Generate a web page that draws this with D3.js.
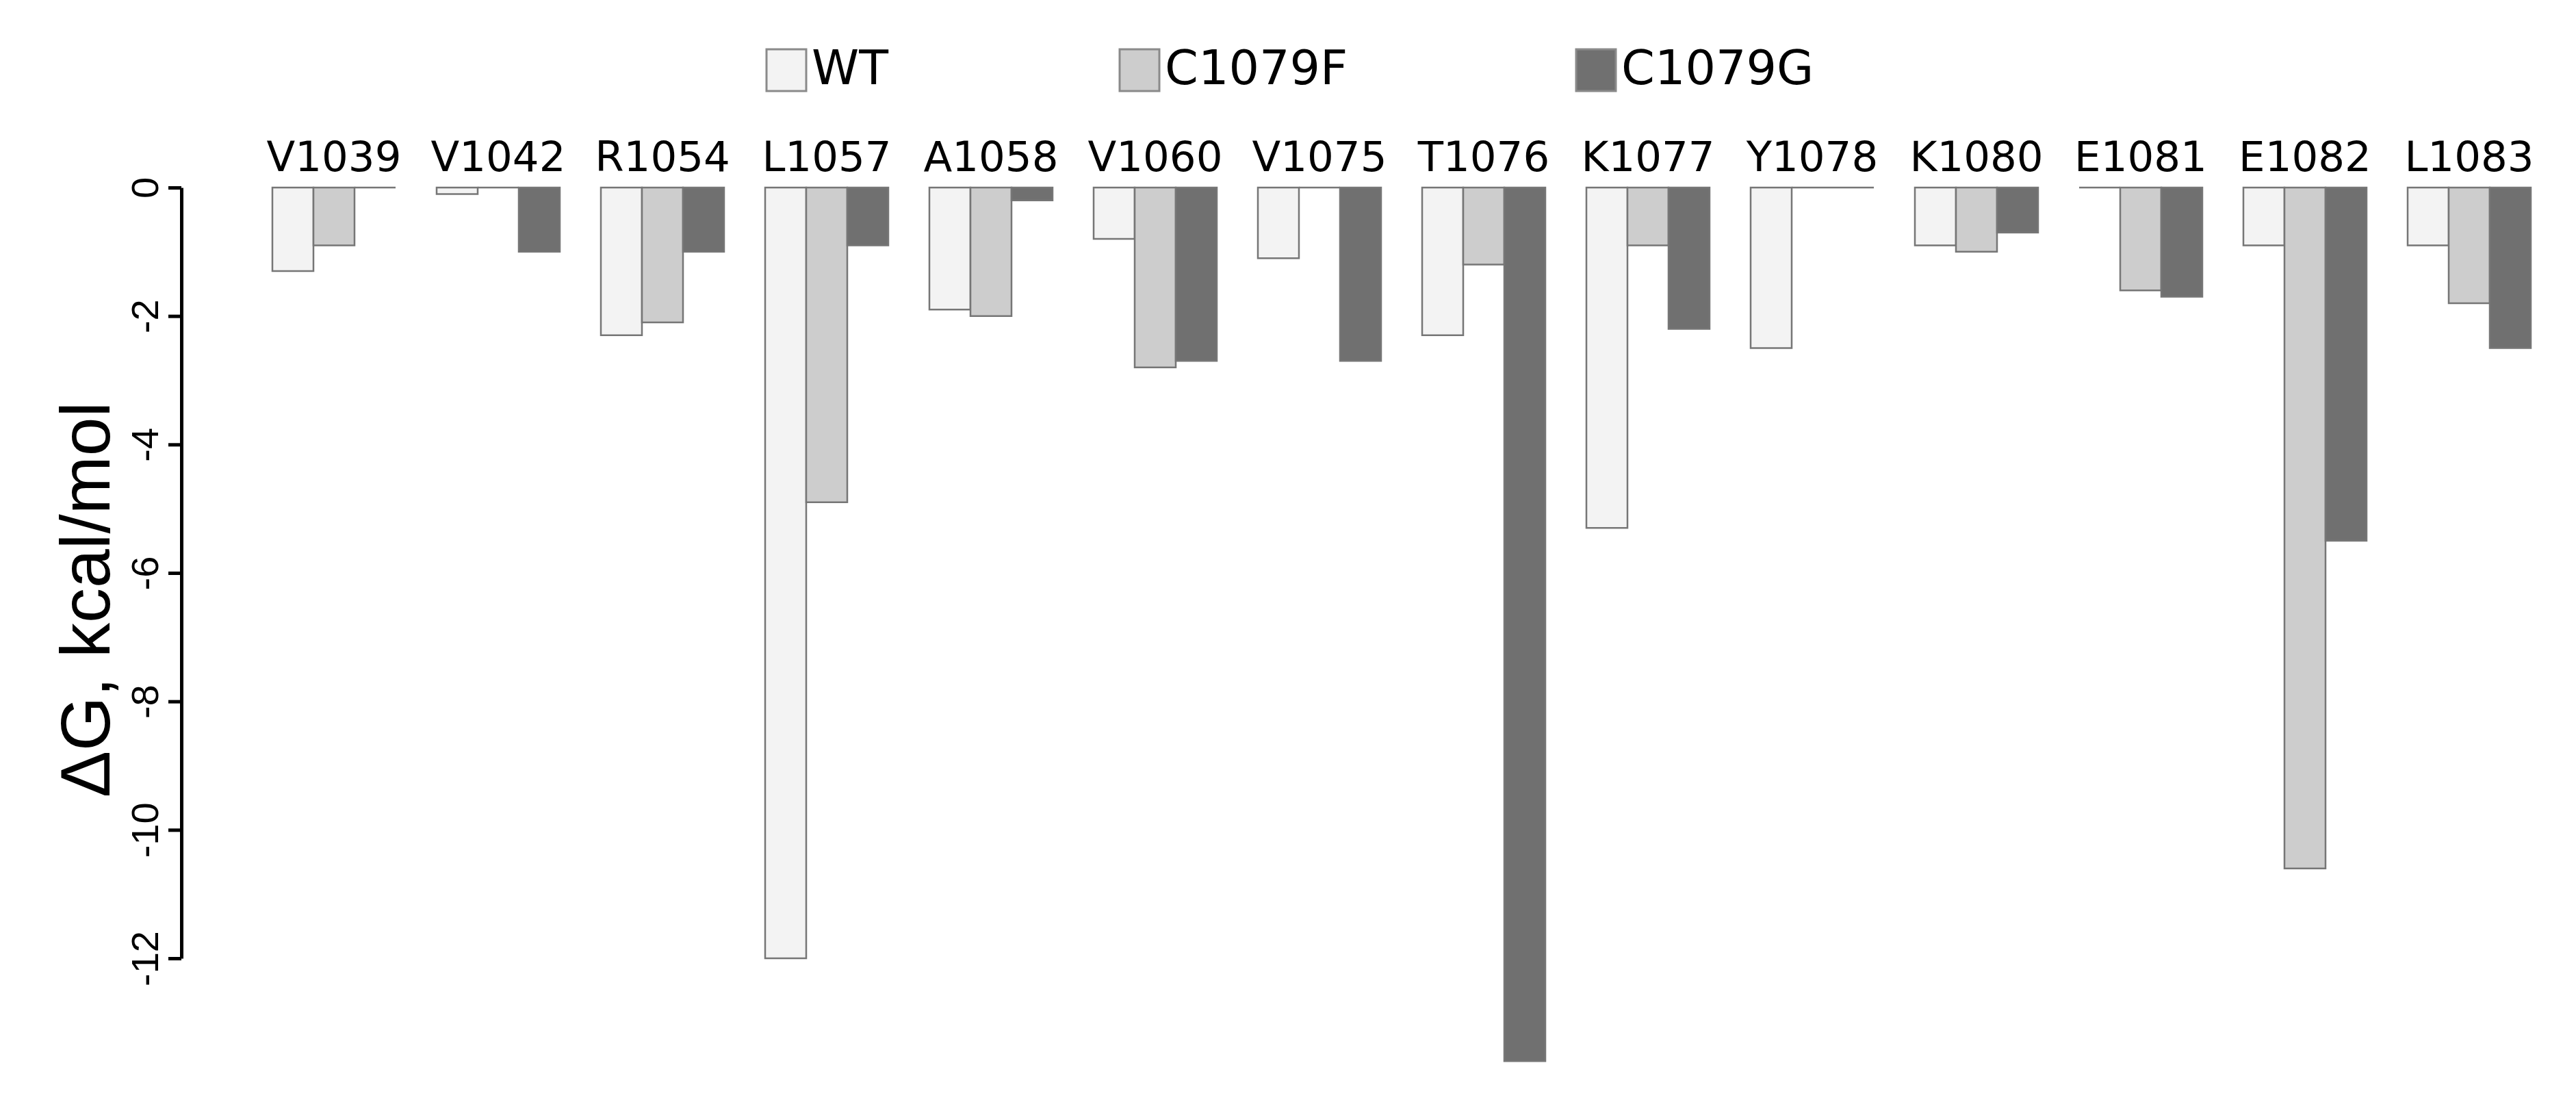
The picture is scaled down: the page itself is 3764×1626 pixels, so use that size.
<!DOCTYPE html>
<meta charset="utf-8">
<title>dG per residue</title>
<style>
html, body { margin: 0; padding: 0; background: #fff; }
svg { display: block; }
.cat { font-family: "DejaVu Sans", sans-serif; font-size: 61px; }
.leg { font-family: "DejaVu Sans", sans-serif; font-size: 70px; }
.ax .tick text { font-family: "Liberation Sans", Arial, sans-serif; font-size: 56px; }
</style>
<body>
<script src="https://cdn.jsdelivr.net/npm/d3@7"></script>
<script>
'use strict';

// residues along the x axis
const residues = ["V1039", "V1042", "R1054", "L1057", "A1058", "V1060", "V1075",
                  "T1076", "K1077", "Y1078", "K1080", "E1081", "E1082", "L1083"];

// dG, kcal/mol for each variant
const wtVals    = [-1.3, -0.1, -2.3, -12.0, -1.9, -0.8, -1.1, -2.3, -5.3, -2.5, -0.9,  0.0, -0.9, -0.9];
const c1079fVals = [-0.9,  0.0, -2.1, -4.9, -2.0, -2.8,  0.0, -1.2, -0.9,  0.0, -1.0, -1.6, -10.6, -1.8];
const c1079gVals = [ 0.0, -1.0, -1.0, -0.9, -0.2, -2.7, -2.7, -13.6, -2.2, 0.0, -0.7, -1.7, -5.5, -2.5];

const seriesNames = ["WT", "C1079F", "C1079G"];
const seriesFill = ["#f3f3f3", "#cdcdcd", "#707070"];

const yTicks = [0, -2, -4, -6, -8, -10, -12];

const W = 3764, H = 1626;
const svg = d3.select("body").append("svg").attr("width", W).attr("height", H);

const series = [wtVals, c1079fVals, c1079gVals];

// groups of three bars, one empty bar width between groups
const x0 = d3.scaleBand().domain(residues).range([398, 3698]).paddingInner(0.25).paddingOuter(0);
const x1 = d3.scaleBand().domain(seriesNames).range([0, x0.bandwidth()]).padding(0);
const y = d3.scaleLinear().domain([0, -12]).range([274, 1400]);

// bars (drawn as paths so that zero values still show their outline)
const groups = svg.append("g").selectAll("g")
  .data(residues)
  .join("g")
    .attr("transform", d => `translate(${x0(d)},0)`);

groups.selectAll("path")
  .data((d, i) => seriesNames.map((s, k) => ({s: s, k: k, v: series[k][i]})))
  .join("path")
    .attr("d", d => {
      const p = d3.path();
      const xa = x1(d.s), w = x1.bandwidth();
      const ya = y(0), yb = y(d.v);
      p.moveTo(xa, ya); p.lineTo(xa + w, ya); p.lineTo(xa + w, yb); p.lineTo(xa, yb); p.closePath();
      return p.toString();
    })
    .attr("fill", d => seriesFill[d.k])
    .attr("stroke", "#767676")
    .attr("stroke-width", 2.5);

// residue labels above groups
svg.append("g").selectAll("text")
  .data(residues)
  .join("text")
    .attr("class", "cat")
    .attr("x", d => x0(d) + x0.bandwidth() / 2)
    .attr("y", 250)
    .attr("text-anchor", "middle")
    .text(d => d);

// y axis
const yAxis = d3.axisLeft(y).tickValues(yTicks).tickSize(19).tickSizeOuter(0).tickFormat(d3.format("d"));
const ax = svg.append("g").attr("class", "ax").attr("transform", "translate(265,0)").call(yAxis);
ax.select(".domain").attr("stroke", "#000").attr("stroke-width", 5);
ax.selectAll(".tick line").attr("stroke", "#000").attr("stroke-width", 5);
ax.selectAll(".tick text")
  .attr("x", 0).attr("dy", 0)
  .attr("text-anchor", "middle")
  .attr("transform", "translate(-34,0) rotate(-90)")
  .text(d => d === 0 ? "0" : "-" + Math.abs(d));

svg.append("text")
  .attr("transform", "translate(160,876) rotate(-90)")
  .attr("text-anchor", "middle")
  .attr("font-family", "'Liberation Sans', Arial, sans-serif")
  .attr("font-size", 102)
  .text("\u0394G, kcal/mol");

// legend
const legendX = [1120, 1636, 2303];
const leg = svg.append("g").selectAll("g")
  .data(seriesNames)
  .join("g")
    .attr("transform", (d, i) => `translate(${legendX[i]},72)`);
leg.append("rect")
  .attr("width", 58).attr("height", 61)
  .attr("fill", (d, i) => seriesFill[i])
  .attr("stroke", "#8a8a8a").attr("stroke-width", 3);
leg.append("text")
  .attr("class", "leg")
  .attr("x", 66).attr("y", 51)
  .text(d => d);
</script>
</body>
